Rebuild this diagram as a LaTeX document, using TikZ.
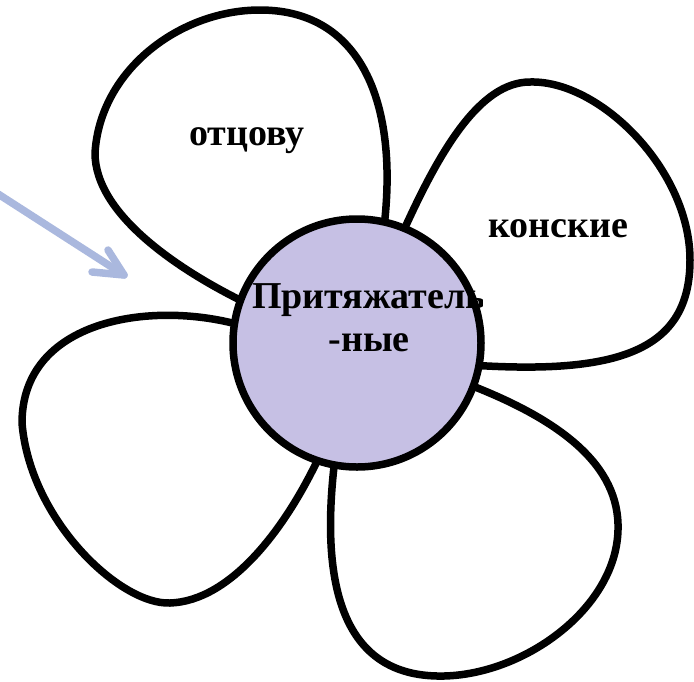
\documentclass[tikz,border=0pt]{standalone}
\usepackage{fontspec}
\setmainfont{Liberation Serif}
\definecolor{centre}{RGB}{198,192,228}
\definecolor{arrowc}{RGB}{170,184,222}
\tikzset{
  petal/.style={draw=black, line width=7.5pt, fill=white, line join=round},
  heart/.style={circle, draw=black, line width=7.5pt, fill=centre, minimum size=248pt, inner sep=0pt},
  lbl/.style={font=\bfseries\fontsize{38}{43}\selectfont, align=center, inner sep=0pt},
  pointer/.style={draw=arrowc, line width=7.5pt, line cap=round, line join=round}
}
\begin{document}
\begin{tikzpicture}[x=1pt,y=-1pt]
\useasboundingbox (0,0) rectangle (694,681);
% petals
\draw[petal] (240,300) .. controls (180,270) and (95,215) .. (95,153)
  .. controls (100,70) and (180,10) .. (260,10)
  .. controls (365,10) and (400,110) .. (383,235) -- (320,300) -- cycle;
\draw[petal] (403,232) .. controls (440,150) and (480,82) .. (530,82)
  .. controls (600,80) and (690,170) .. (690,260)
  .. controls (690,350) and (620,375) .. (470,365) -- (420,320) -- cycle;
\draw[petal] (470,385) .. controls (560,420) and (620,465) .. (618,530)
  .. controls (616,610) and (520,678) .. (437,676)
  .. controls (340,674) and (320,580) .. (335,458) -- (400,420) -- cycle;
\draw[petal] (240,325) .. controls (150,300) and (22,320) .. (22,423)
  .. controls (30,520) and (120,605) .. (170,603)
  .. controls (230,601) and (285,530) .. (320,455) -- (300,400) -- cycle;
% centre
\node[heart] (c) at (357,343) {};
\begin{scope}
  \clip (0,0) rectangle (482,681);
  \node[lbl] (t) at (369,318) {Притяжатель\\-ные};
\end{scope}
\node[lbl] (p1) at (247,141) {отцову};
\node[lbl] (p2) at (558,229) {конские};
% arrow
\coordinate (a0) at (-5,192);
\coordinate (a1) at (124,275);
\coordinate (a2) at (108,250);
\coordinate (a3) at (92,272);
\draw[pointer] (a0) -- (a1);
\draw[pointer] (a2) -- (a1) -- (a3);
\end{tikzpicture}
\end{document}
